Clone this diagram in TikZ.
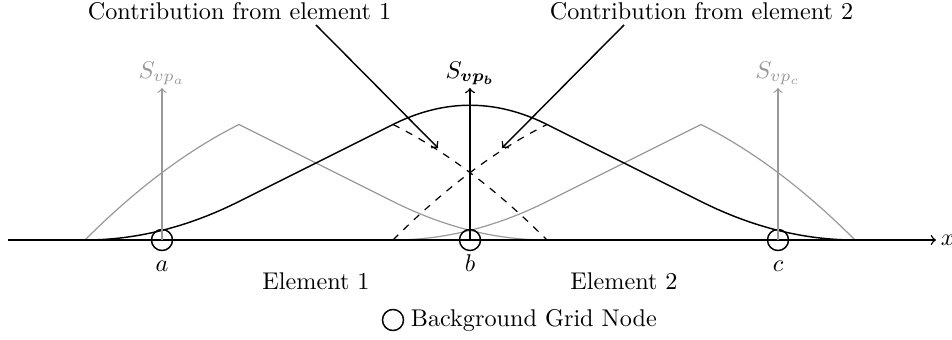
\documentclass[tikz,border=0pt]{standalone}
\usepackage{bm}
\begin{document}
\begin{tikzpicture}[x=0.4134pt,y=-0.4134pt,
  blk/.style={black,line width=0.6pt},
  gry/.style={black!40,line width=0.5pt},
  dsh/.style={black,line width=0.5pt,dashed},
  gridnode/.style={circle,draw=black,line width=0.6pt,minimum size=8.7pt,inner sep=0pt},
  lbl/.style={inner sep=1pt},
  pointer/.style={black,line width=0.6pt,->}]
\useasboundingbox (0,0) rectangle (952,340);

% grey weighting functions
\draw[gry] plot[domain=85:239,samples=40] (\x,{240-9.625*(16-((393-\x)/77)^2)})
  -- plot[domain=239:393,samples=2] (\x,{240-(470-\x)/2})
  -- plot[domain=393:547,samples=40] (\x,{240-9.625*((547-\x)/77)^2});
\draw[gry] plot[domain=393:547,samples=40] (\x,{240-9.625*((\x-393)/77)^2})
  -- plot[domain=547:701,samples=2] (\x,{240-(\x-470)/2})
  -- plot[domain=701:855,samples=40] (\x,{240-9.625*(16-((\x-547)/77)^2)});

% contributions (dashed)
\draw[dsh] plot[domain=393:547,samples=40] (\x,{240-9.625*(16-((\x-239)/77)^2)});
\draw[dsh] plot[domain=393:547,samples=40] (\x,{240-9.625*(16-((701-\x)/77)^2)});

% black weighting function
\draw[blk] plot[domain=85:239,samples=40] (\x,{240-9.625*((\x-85)/77)^2})
  -- plot[domain=239:393,samples=2] (\x,{240-154+(470-\x)/2})
  -- plot[domain=393:547,samples=40] (\x,{240-154+19.25*(((\x-470)/77)^2+1)})
  -- plot[domain=547:701,samples=2] (\x,{240-154+(\x-470)/2})
  -- plot[domain=701:855,samples=40] (\x,{240-9.625*((855-\x)/77)^2});

% x axis
\coordinate (xs) at (8,240);
\coordinate (xe) at (936,240);
\draw[blk,->] (xs) -- (xe);
\node[lbl,anchor=west] (xlab) at (938,240) {$x$};

% grid nodes
\node[gridnode] (na) at (162,240) {};
\node[gridnode] (nb) at (470,240) {};
\node[gridnode] (nc) at (778,240) {};
\node[lbl,anchor=base] (la) at (162,272) {$a$};
\node[lbl,anchor=base] (lb) at (470,272) {$b$};
\node[lbl,anchor=base] (lc) at (778,272) {$c$};

% vertical axes
\coordinate (ta) at (162,88);
\coordinate (tb) at (470,88);
\coordinate (tc) at (778,88);
\draw[gry,->] (na.center) -- (ta);
\draw[blk,->] (nb.center) -- (tb);
\draw[gry,->] (nc.center) -- (tc);
\node[lbl,anchor=south,text=black!40] (sa) at (ta) {$S_{vp_a}$};
\node[lbl,anchor=south] (sb) at (tb) {$S_{\bm{vp_b}}$};
\node[lbl,anchor=south,text=black!40] (sc) at (tc) {$S_{vp_c}$};

% element labels
\node[lbl] (e1) at (316,281) {Element 1};
\node[lbl] (e2) at (624,281) {Element 2};

% contribution labels and pointers
\node[lbl] (c1) at (239.5,11) {Contribution from element 1};
\node[lbl] (c2) at (701.5,11) {Contribution from element 2};
\coordinate (p1s) at (316,25);
\coordinate (p1e) at (438,148);
\coordinate (p2s) at (624,25);
\coordinate (p2e) at (502,148);
\draw[pointer] (p1s) -- (p1e);
\draw[pointer] (p2s) -- (p2e);

% legend
\node[gridnode] (leg) at (393,320) {};
\node[lbl,anchor=west] (legt) at (408,320) {Background Grid Node};
\end{tikzpicture}
\end{document}
